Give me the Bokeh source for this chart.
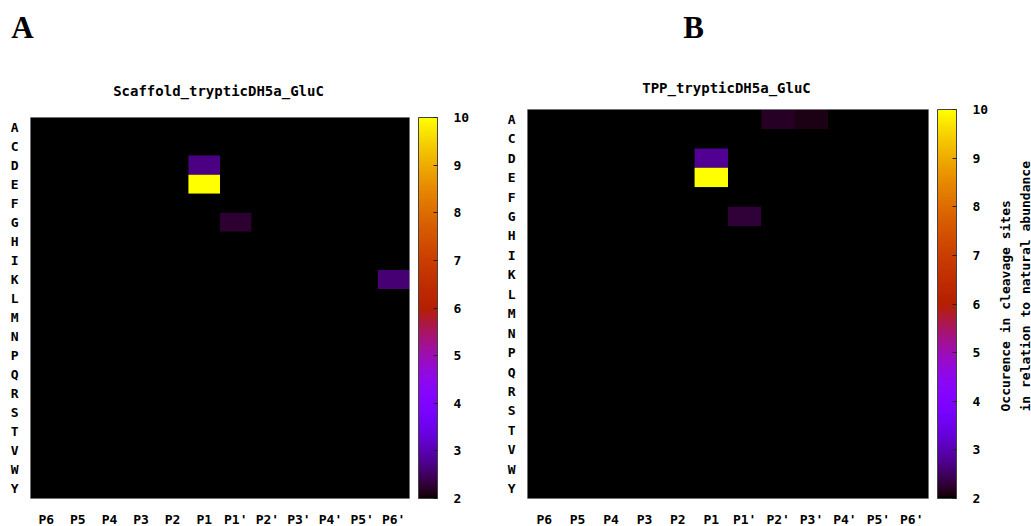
import math
from bokeh.plotting import figure
from bokeh.models import (ColumnDataSource, LinearColorMapper, ColorBar, FixedTicker,
                          Label, FactorRange, Title, Range1d)
from bokeh.transform import transform
from bokeh.layouts import row, column
from bokeh.embed import file_html
from bokeh.resources import INLINE

# ---------------- data ----------------
positions = ["P6", "P5", "P4", "P3", "P2", "P1", "P1'", "P2'", "P3'", "P4'", "P5'", "P6'"]
residues = ["A", "C", "D", "E", "F", "G", "H", "I", "K", "L",
            "M", "N", "P", "Q", "R", "S", "T", "V", "W", "Y"]
colorbar_ticks = [2, 3, 4, 5, 6, 7, 8, 9, 10]
color_low = 2
color_high = 10

title_a = "Scaffold_trypticDH5a_GluC"
title_b = "TPP_trypticDH5a_GluC"
cbar_label = "Occurence in cleavage sites\nin relation to natural abundance"

#            P6 P5 P4 P3 P2  P1   P1'   P2'   P3'  P4' P5' P6'
values_a = [[0, 0, 0, 0, 0, 0,    0,    0,    0,    0, 0, 0],     # A
            [0, 0, 0, 0, 0, 0,    0,    0,    0,    0, 0, 0],     # C
            [0, 0, 0, 0, 0, 2.7,  0,    0,    0,    0, 0, 0],     # D
            [0, 0, 0, 0, 0, 10,   0,    0,    0,    0, 0, 0],     # E
            [0, 0, 0, 0, 0, 0,    0,    0,    0,    0, 0, 0],     # F
            [0, 0, 0, 0, 0, 0,    2.25, 0,    0,    0, 0, 0],     # G
            [0, 0, 0, 0, 0, 0,    0,    0,    0,    0, 0, 0],     # H
            [0, 0, 0, 0, 0, 0,    0,    0,    0,    0, 0, 0],     # I
            [0, 0, 0, 0, 0, 0,    0,    0,    0,    0, 0, 2.6],   # K
            [0, 0, 0, 0, 0, 0,    0,    0,    0,    0, 0, 0],     # L
            [0, 0, 0, 0, 0, 0,    0,    0,    0,    0, 0, 0],     # M
            [0, 0, 0, 0, 0, 0,    0,    0,    0,    0, 0, 0],     # N
            [0, 0, 0, 0, 0, 0,    0,    0,    0,    0, 0, 0],     # P
            [0, 0, 0, 0, 0, 0,    0,    0,    0,    0, 0, 0],     # Q
            [0, 0, 0, 0, 0, 0,    0,    0,    0,    0, 0, 0],     # R
            [0, 0, 0, 0, 0, 0,    0,    0,    0,    0, 0, 0],     # S
            [0, 0, 0, 0, 0, 0,    0,    0,    0,    0, 0, 0],     # T
            [0, 0, 0, 0, 0, 0,    0,    0,    0,    0, 0, 0],     # V
            [0, 0, 0, 0, 0, 0,    0,    0,    0,    0, 0, 0],     # W
            [0, 0, 0, 0, 0, 0,    0,    0,    0,    0, 0, 0]]     # Y

values_b = [[0, 0, 0, 0, 0, 0,    0,    2.2,  2.1,  0, 0, 0],     # A
            [0, 0, 0, 0, 0, 0,    0,    0,    0,    0, 0, 0],     # C
            [0, 0, 0, 0, 0, 2.8,  0,    0,    0,    0, 0, 0],     # D
            [0, 0, 0, 0, 0, 10,   0,    0,    0,    0, 0, 0],     # E
            [0, 0, 0, 0, 0, 0,    0,    0,    0,    0, 0, 0],     # F
            [0, 0, 0, 0, 0, 0,    2.3,  0,    0,    0, 0, 0],     # G
            [0, 0, 0, 0, 0, 0,    0,    0,    0,    0, 0, 0],     # H
            [0, 0, 0, 0, 0, 0,    0,    0,    0,    0, 0, 0],     # I
            [0, 0, 0, 0, 0, 0,    0,    0,    0,    0, 0, 0],     # K
            [0, 0, 0, 0, 0, 0,    0,    0,    0,    0, 0, 0],     # L
            [0, 0, 0, 0, 0, 0,    0,    0,    0,    0, 0, 0],     # M
            [0, 0, 0, 0, 0, 0,    0,    0,    0,    0, 0, 0],     # N
            [0, 0, 0, 0, 0, 0,    0,    0,    0,    0, 0, 0],     # P
            [0, 0, 0, 0, 0, 0,    0,    0,    0,    0, 0, 0],     # Q
            [0, 0, 0, 0, 0, 0,    0,    0,    0,    0, 0, 0],     # R
            [0, 0, 0, 0, 0, 0,    0,    0,    0,    0, 0, 0],     # S
            [0, 0, 0, 0, 0, 0,    0,    0,    0,    0, 0, 0],     # T
            [0, 0, 0, 0, 0, 0,    0,    0,    0,    0, 0, 0],     # V
            [0, 0, 0, 0, 0, 0,    0,    0,    0,    0, 0, 0],     # W
            [0, 0, 0, 0, 0, 0,    0,    0,    0,    0, 0, 0]]     # Y

# ---------------- style / layout ----------------
FONT = "DejaVu Sans Mono"
PAGE_W = 1031
PAGE_H = 526
HEAD_H = 101
BODY_H = PAGE_H - HEAD_H


def gnuplot_palette(n=256):
    # gnuplot default "rgbformulae 7,5,15"
    cols = []
    for i in range(n):
        t = i / (n - 1)
        r = math.sqrt(t)
        g = t ** 3
        b = max(0.0, math.sin(2 * math.pi * t))
        cols.append("#%02x%02x%02x" % (round(r * 255), round(g * 255), round(b * 255)))
    return cols


PALETTE = gnuplot_palette()


def blank_figure(w, h):
    f = figure(width=w, height=h, x_range=Range1d(0, w), y_range=Range1d(h, 0),
               min_border=0, x_axis_location=None, y_axis_location=None,
               output_backend="svg", toolbar_location=None, tools="")
    f.outline_line_color = None
    f.grid.visible = False
    f.background_fill_color = None
    f.border_fill_color = None
    return f


def make_panel(matrix, mb_left, frame_top, mb_right, frame_w, frame_h):
    mb_top = frame_top - HEAD_H
    mb_bottom = PAGE_H - frame_top - frame_h

    xs, ys, vs = [], [], []
    for ri, res in enumerate(residues):
        for ci, pos in enumerate(positions):
            xs.append(pos)
            ys.append(res)
            vs.append(matrix[ri][ci])
    src = ColumnDataSource(dict(pos=xs, res=ys, val=vs))

    mapper = LinearColorMapper(palette=PALETTE, low=color_low, high=color_high)

    p = figure(x_range=FactorRange(*positions), y_range=FactorRange(*reversed(residues)),
               frame_width=frame_w, frame_height=frame_h,
               min_border_left=mb_left, min_border_right=mb_right,
               min_border_top=mb_top, min_border_bottom=mb_bottom,
               output_backend="svg", toolbar_location=None, tools="")
    p.rect(x="pos", y="res", width=1, height=1, source=src,
           fill_color=transform("val", mapper), line_color=None)

    p.background_fill_color = "black"
    p.border_fill_color = "white"
    p.outline_line_color = "#9a9a9a"
    p.grid.visible = False

    for ax in (p.xaxis, p.yaxis):
        ax.axis_line_color = None
        ax.major_tick_line_color = None
        ax.minor_tick_line_color = None
        ax.major_tick_out = 0
        ax.major_tick_in = 0
        ax.minor_tick_out = 0
        ax.major_label_text_font = FONT
        ax.major_label_text_font_style = "bold"
        ax.major_label_text_font_size = "13px"
        ax.major_label_text_color = "black"
    p.xaxis.major_label_standoff = 13
    p.yaxis.major_label_standoff = 12

    # small invisible spacer so the colour bar sits a few pixels right of the map
    p.add_layout(Title(text=" ", text_font_size="1px", standoff=6), "right")

    cb = ColorBar(color_mapper=mapper, ticker=FixedTicker(ticks=colorbar_ticks),
                  width=19, height=frame_h, margin=0, padding=0,
                  label_standoff=16, major_tick_in=4, major_tick_out=0,
                  major_tick_line_color="#222222", major_tick_line_width=1,
                  bar_line_color="#444444", border_line_color=None,
                  background_fill_color=None,
                  major_label_text_font=FONT, major_label_text_font_style="bold",
                  major_label_text_font_size="13px", major_label_text_color="black")
    p.add_layout(cb, "right")
    return p


# panel A occupies x 0..500, panel B 500..990, caption strip 990..1031
WA, WB = 500, 490
pa = make_panel(values_a, mb_left=30, frame_top=117, mb_right=WA - 30 - 379,
                frame_w=379, frame_h=381)
pb = make_panel(values_b, mb_left=27, frame_top=109, mb_right=WB - 27 - 401,
                frame_w=401, frame_h=389)

# header strip with panel letters and titles (page pixel coordinates)
head = blank_figure(PAGE_W, HEAD_H)
for txt, x, y in (("A", 22, 27), ("B", 693, 27)):
    head.add_layout(Label(x=x, y=y, text=txt, text_align="center", text_baseline="middle",
                          text_font="Liberation Serif", text_font_style="bold",
                          text_font_size="31px", text_color="black"))
for txt, x, y in ((title_a, 218, 90), (title_b, 726, 87)):
    head.add_layout(Label(x=x, y=y, text=txt, text_align="center", text_baseline="middle",
                          text_font=FONT, text_font_style="bold", text_font_size="14px",
                          text_color="black"))

# narrow strip carrying the colour bar's caption (reads bottom to top)
SIDE_W = PAGE_W - WA - WB
pc = blank_figure(SIDE_W, BODY_H)
pc.add_layout(Label(x=6, y=411 - HEAD_H, text=cbar_label, angle=math.pi / 2,
                    text_align="left", text_baseline="top",
                    text_font=FONT, text_font_style="bold", text_font_size="13px",
                    text_line_height=1.35, text_color="black"))

layout = column(head, row(column(pa), column(pb), column(pc)))
open("out.html", "w").write(file_html(layout, INLINE))
